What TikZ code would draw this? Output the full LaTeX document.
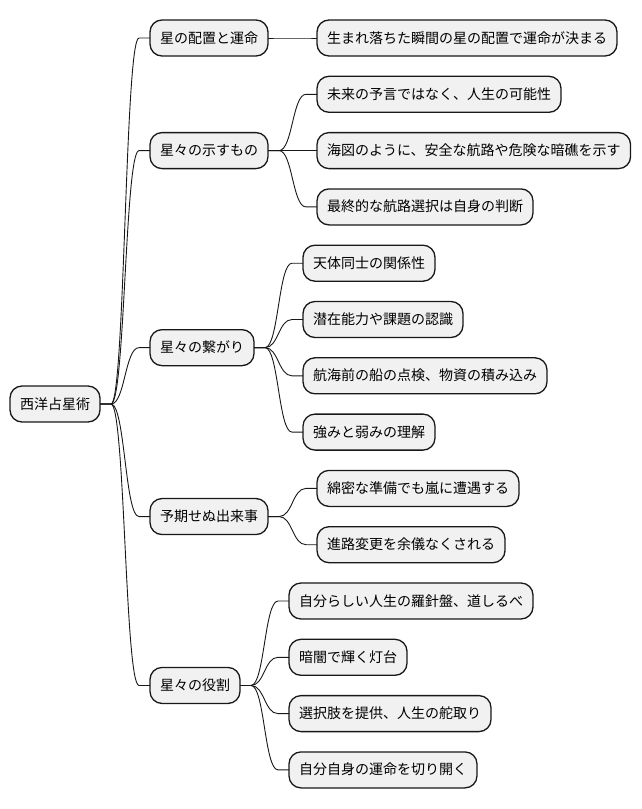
\documentclass[tikz,border=0pt]{standalone}
\usepackage{fontspec}
\setmainfont{Noto Sans CJK JP}
\usetikzlibrary{calc}
\definecolor{boxline}{HTML}{181818}
\definecolor{boxfill}{HTML}{F1F1F1}
\tikzset{
 box/.style={draw=boxline, fill=boxfill, line width=1.3pt, rounded corners=12pt, minimum height=36pt, inner xsep=10pt, inner ysep=0pt, outer sep=0pt, anchor=west, font=\fontsize{14pt}{17pt}\selectfont, text height=12pt, text depth=2pt},
 conn/.style={draw=boxline, line width=0.9pt}
}
\newcommand\mmconn[2]{%
 \path (#1.east) ++(11pt,0) coordinate (cs);
 \path (#2.west) ++(-11pt,0) coordinate (ce);
 \draw[conn] let \p1=(cs), \p2=(ce) in (#1.east) -- (cs) .. controls ({(\x1+\x2)/2},\y1) and ({(\x1+\x2)/2},\y2) .. (ce) -- (#2.west);
}
\begin{document}
\begin{tikzpicture}[x=1pt,y=-1pt]
\useasboundingbox (0,0) rectangle (642,809);
% root
\node[box] (root) at (10,404) {西洋占星術};
% level 1
\node[box] (a) at (150,38) {星の配置と運命};
\node[box] (b) at (150,150.6) {星々の示すもの};
\node[box] (c) at (150,347.65) {星々の繋がり};
\node[box] (d) at (150,516.55) {予期せぬ出来事};
\node[box] (e) at (150,685.45) {星々の役割};
% level 2
\node[box] (a1) at (317,38) {生まれ落ちた瞬間の星の配置で運命が決まる};
\node[box] (b1) at (317,94.3) {未来の予言ではなく、人生の可能性};
\node[box] (b2) at (317,150.6) {海図のように、安全な航路や危険な暗礁を示す};
\node[box] (b3) at (317,206.9) {最終的な航路選択は自身の判断};
\node[box] (c1) at (303,263.2) {天体同士の関係性};
\node[box] (c2) at (303,319.5) {潜在能力や課題の認識};
\node[box] (c3) at (303,375.8) {航海前の船の点検、物資の積み込み};
\node[box] (c4) at (303,432.1) {強みと弱みの理解};
\node[box] (d1) at (317,488.4) {綿密な準備でも嵐に遭遇する};
\node[box] (d2) at (317,544.7) {進路変更を余儀なくされる};
\node[box] (e1) at (289,601) {自分らしい人生の羅針盤、道しるべ};
\node[box] (e2) at (289,657.3) {暗闇で輝く灯台};
\node[box] (e3) at (289,713.6) {選択肢を提供、人生の舵取り};
\node[box] (e4) at (289,769.9) {自分自身の運命を切り開く};
% connectors
\mmconn{root}{a}
\mmconn{root}{b}
\mmconn{root}{c}
\mmconn{root}{d}
\mmconn{root}{e}
\mmconn{a}{a1}
\mmconn{b}{b1}
\mmconn{b}{b2}
\mmconn{b}{b3}
\mmconn{c}{c1}
\mmconn{c}{c2}
\mmconn{c}{c3}
\mmconn{c}{c4}
\mmconn{d}{d1}
\mmconn{d}{d2}
\mmconn{e}{e1}
\mmconn{e}{e2}
\mmconn{e}{e3}
\mmconn{e}{e4}
\end{tikzpicture}
\end{document}
